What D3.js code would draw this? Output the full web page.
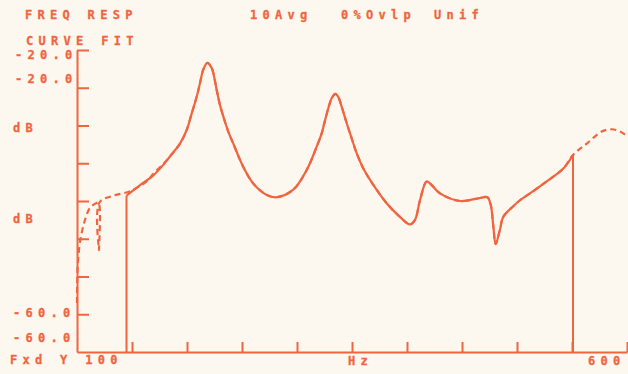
<!DOCTYPE html>
<html>
<head>
<meta charset="utf-8">
<script src="https://cdn.jsdelivr.net/npm/d3@7"></script>
<style>
  html, body { margin: 0; padding: 0; background: #fcf8ef; }
  svg { display: block; }
  text { font-family: "DejaVu Sans Mono", monospace; font-size: 12px; font-weight: bold; fill: #f06540; stroke: #f06540; stroke-width: 0.3px; letter-spacing: 5.3px; }
</style>
</head>
<body>
<svg id="chart" width="628" height="374"></svg>
<script>
// Frequency response, measured trace (solid) over the fit band
const measuredHz = [145.0, 157.3, 169.4, 178.5, 184.5, 193.6, 199.7, 204.3, 208.8, 211.8, 214.8, 218.5, 222.5, 224.6, 227.0, 230.0, 233.0, 237.5, 242.1, 246.6, 251.2, 260.3, 272.5, 281.5, 296.6, 308.8, 317.9, 322.5, 325.5, 328.5, 331.5, 334.8, 337.5, 340.6, 345.2, 349.7, 354.3, 360.3, 366.4, 381.5, 393.6, 402.7, 407.3, 411.8, 417.9, 422.5, 430.0, 448.2, 466.4, 473.0, 476.1, 478.5, 480.6, 484.5, 487.5, 496.6, 502.7, 511.8, 527.0, 542.1, 550.9];
const measuredDb = [-39.3, -37.9, -36.6, -35.2, -34.1, -32.4, -30.6, -28.4, -26.2, -24.4, -22.6, -21.7, -22.4, -23.5, -25.3, -27.3, -28.8, -30.8, -32.4, -34.0, -35.5, -37.7, -39.2, -39.5, -38.5, -35.9, -32.8, -31.0, -29.3, -27.7, -26.4, -25.8, -26.2, -27.5, -29.7, -31.7, -33.7, -35.7, -37.2, -40.3, -42.1, -43.1, -42.5, -39.9, -37.4, -37.9, -39.0, -40.0, -39.6, -39.5, -40.5, -43.4, -45.7, -43.8, -42.1, -40.7, -39.9, -39.0, -37.4, -35.7, -33.9];

// Curve-fit trace (dashed) over the full span
const fitHz = [100.0, 100.5, 102.1, 104.3, 107.3, 111.8, 117.3, 119.6, 120.0, 120.4, 133.0, 148.2, 163.4, 169.4, 178.5, 184.5, 193.6, 199.7, 204.3, 208.8, 211.8, 214.8, 218.5, 222.5, 224.6, 227.0, 230.0, 233.0, 237.5, 242.1, 246.6, 251.2, 260.3, 272.5, 281.5, 296.6, 308.8, 317.9, 322.5, 325.5, 328.5, 331.5, 334.8, 337.5, 340.6, 345.2, 349.7, 354.3, 360.3, 366.4, 381.5, 393.6, 402.7, 407.3, 411.8, 417.9, 422.5, 430.0, 448.2, 466.4, 473.0, 476.1, 478.5, 480.6, 484.5, 487.5, 496.6, 502.7, 511.8, 527.0, 542.1, 550.9, 563.4, 577.0, 586.1, 593.6, 601.0];
const fitDb = [-53.5, -49.1, -46.1, -44.2, -42.5, -40.9, -40.3, -40.2, -46.5, -40.2, -39.3, -38.7, -37.4, -36.4, -35.1, -34.1, -32.4, -30.6, -28.4, -26.2, -24.4, -22.6, -21.7, -22.4, -23.5, -25.3, -27.3, -28.8, -30.8, -32.4, -34.0, -35.5, -37.7, -39.2, -39.5, -38.5, -35.9, -32.8, -31.0, -29.3, -27.7, -26.4, -25.8, -26.2, -27.5, -29.7, -31.7, -33.7, -35.7, -37.2, -40.3, -42.1, -43.1, -42.5, -39.9, -37.4, -37.9, -39.0, -40.0, -39.6, -39.5, -40.5, -43.4, -45.7, -43.8, -42.1, -40.7, -39.9, -39.0, -37.4, -35.7, -33.9, -32.4, -30.8, -30.5, -30.8, -31.5];

// Fit band limits (Hz)
const bandHz = [145.0, 550.9];

// Axis ticks
const xTickHz = [150, 200, 250, 300, 350, 400, 450, 500, 550, 600];
const yTickDb = [-55, -50, -45, -40, -35, -30, -25, -20];

// Header and scale annotations
const headerLeft = ["FREQ RESP", "CURVE FIT"];
const headerRight = ["10Avg", "0%Ovlp", "Unif"];
const yLabels = ["-20.0", "-20.0", "dB", "dB", "-60.0", "-60.0"];
const xLabels = ["Fxd Y 100", "Hz", "600"];

const ink = "#f06540";
const svg = d3.select("#chart");

const x = d3.scaleLinear().domain([100, 600]).range([77, 627]);
const y = d3.scaleLinear().domain([-60, -20]).range([352, 50]);

// Axes: ticks point into the plot
const xAxis = d3.axisBottom(x).tickValues(xTickHz).tickSizeInner(-10).tickSizeOuter(0).tickFormat("");
const yAxis = d3.axisLeft(y).tickValues(yTickDb).tickSizeInner(-12).tickSizeOuter(0).tickFormat("");

const gx = svg.append("g").attr("transform", `translate(0,${y(-60)})`).call(xAxis);
const gy = svg.append("g").attr("transform", `translate(${x(100)},0)`).call(yAxis);
[gx, gy].forEach(g => {
  g.selectAll("path, line").attr("stroke", ink).attr("stroke-width", 2);
});

const line = d3.line().x(d => x(d[0])).y(d => y(d[1])).curve(d3.curveCatmullRom.alpha(0.5));

const measured = measuredHz.map((f, i) => [f, measuredDb[i]]);
const fit = fitHz.map((f, i) => [f, fitDb[i]]);

// Band markers from the axis up to the measured trace
svg.selectAll(".band").data(bandHz).join("line")
  .attr("x1", d => x(d)).attr("x2", d => x(d))
  .attr("y1", y(-60))
  .attr("y2", d => y(measured.find(p => p[0] === d)[1]))
  .attr("stroke", ink).attr("stroke-width", 2);

svg.append("path").datum(measured)
  .attr("d", line).attr("fill", "none")
  .attr("stroke", ink).attr("stroke-width", 2.2).attr("stroke-linejoin", "round");

svg.append("path").datum(fit)
  .attr("d", line).attr("fill", "none")
  .attr("stroke", ink).attr("stroke-width", 2.2)
  .attr("stroke-dasharray", "6,4");

// Text annotations
const lbl = (t, px, py, anchor) => svg.append("text").attr("x", px).attr("y", py)
  .attr("text-anchor", anchor || "start").text(t);

lbl(headerLeft[0], 25, 19);
lbl(headerLeft[1], 26, 45);
lbl(headerRight[0], 250, 19);
lbl(headerRight[1], 341, 19);
lbl(headerRight[2], 434, 19);

const yRows = [59, 83, 132, 223, 317, 342];
const yCols = [15, 15, 13, 13, 13, 13];
yLabels.forEach((t, i) => lbl(t, yCols[i], yRows[i]));

lbl(xLabels[0], 10, 364);
lbl(xLabels[1], 348, 365);
lbl(xLabels[2], 588, 365);
</script>
</body>
</html>
